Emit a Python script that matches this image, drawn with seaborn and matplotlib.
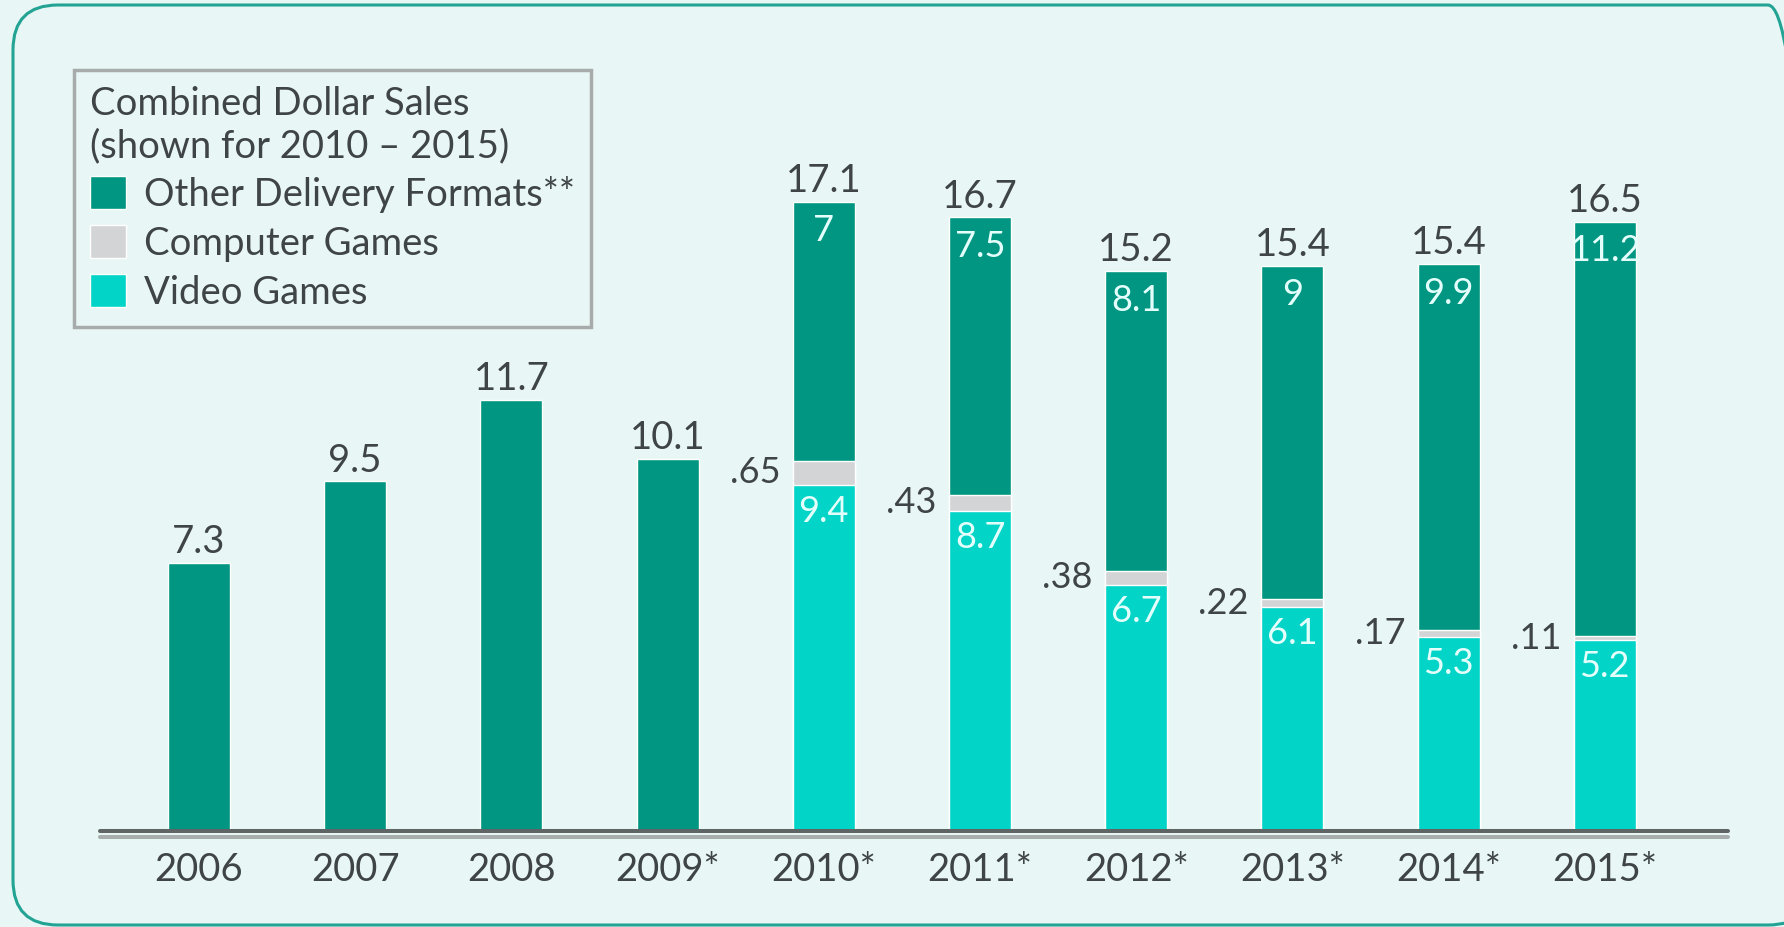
import numpy as np
import pandas as pd
import matplotlib
matplotlib.use('Agg')
import matplotlib.pyplot as plt
import seaborn as sns
from matplotlib.patches import Patch, FancyBboxPatch

# Dados (bilhões de US$)
years = ['2006', '2007', '2008', '2009*', '2010*', '2011*', '2012*', '2013*', '2014*', '2015*']
other = [7.3, 9.5, 11.7, 10.1, 7.0, 7.5, 8.1, 9.0, 9.9, 11.2]
computer = [0, 0, 0, 0, 0.65, 0.43, 0.38, 0.22, 0.17, 0.11]
video = [0, 0, 0, 0, 9.4, 8.7, 6.7, 6.1, 5.3, 5.2]
totals = [7.3, 9.5, 11.7, 10.1, 17.1, 16.7, 15.2, 15.4, 15.4, 16.5]
other_lbl = ['', '', '', '', '7', '7.5', '8.1', '9', '9.9', '11.2']
computer_lbl = ['', '', '', '', '.65', '.43', '.38', '.22', '.17', '.11']
video_lbl = ['', '', '', '', '9.4', '8.7', '6.7', '6.1', '5.3', '5.2']

# Cores
BG = '#e8f7f5'
C_OTHER = '#009682'
C_COMP = '#d3d4d6'
C_VIDEO = '#02d4c8'
TXT = '#3f4447'
INNER = '#e4fffb'

sns.set_theme(style='white')
plt.rcParams['font.family'] = ['Lato', 'DejaVu Sans']

df = pd.DataFrame({'year': years, 'other': other, 'computer': computer, 'video': video})
df['vc'] = df['video'] + df['computer']
df['total'] = df['vc'] + df['other']

W, H = 1784, 927
fig = plt.figure(figsize=(W / 100, H / 100), dpi=100, facecolor=BG)
ax = fig.add_axes([100 / W, 94 / H, 1628 / W, 833 / H])
ax.set_facecolor(BG)

# barras empilhadas (camadas sobrepostas)
bw = 0.397
sns.barplot(data=df, x='year', y='total', color=C_OTHER, saturation=1, width=bw, ax=ax, zorder=2)
sns.barplot(data=df, x='year', y='vc', color=C_COMP, saturation=1, width=bw, ax=ax, zorder=3)
sns.barplot(data=df, x='year', y='video', color=C_VIDEO, saturation=1, width=bw, ax=ax, zorder=4)

ax.set_xlim(-0.634, 9.789)
ax.set_ylim(0, 22.5)
ax.set_xlabel('')
ax.set_ylabel('')
ax.set_yticks([])
for s in ax.spines.values():
    s.set_visible(False)
ax.tick_params(axis='x', length=0, pad=14, labelsize=27.5, labelcolor=TXT)

# linha do eixo
ax.axhline(0.06, color='#5f6565', lw=2.9, zorder=6, clip_on=False)
ax.axhline(-0.1, color='#a6adac', lw=2.9, zorder=6, clip_on=False)

# rótulos
for i in range(len(years)):
    top = df['total'][i]
    ax.annotate(f'{totals[i]}', xy=(i, top), xytext=(0, 2), textcoords='offset points',
                ha='center', va='bottom', fontsize=27.5, color=TXT, zorder=7)
    if other_lbl[i]:
        ax.annotate(other_lbl[i], xy=(i, top), xytext=(0, -21), textcoords='offset points',
                    ha='center', va='center', fontsize=26, color=INNER, zorder=7)
        ax.annotate(video_lbl[i], xy=(i, video[i]), xytext=(0, -19), textcoords='offset points',
                    ha='center', va='center', fontsize=26, color=INNER, zorder=7)
        ax.annotate(computer_lbl[i], xy=(i - bw / 2, video[i] + computer[i] / 2), xytext=(-9, 0),
                    textcoords='offset points', ha='right', va='center', fontsize=26, color=TXT, zorder=7)

# legenda
handles = [Patch(facecolor=C_OTHER), Patch(facecolor=C_COMP), Patch(facecolor=C_VIDEO)]
labels = ['Other Delivery Formats**', 'Computer Games', 'Video Games']
leg = ax.legend(handles, labels, title='Combined Dollar Sales\n(shown for 2010 \u2013 2015)',
                loc='upper left', bbox_to_anchor=(74 / W, 1 - 70 / H), bbox_transform=fig.transFigure,
                fontsize=27.5, title_fontsize=27.5, alignment='left', frameon=True, fancybox=False,
                facecolor=BG, edgecolor='#a7abab', framealpha=1, handlelength=0.95, handleheight=0.95,
                handletextpad=0.45, labelspacing=0.32, borderpad=0.42, borderaxespad=0)
leg.get_frame().set_linewidth(2.5)
for t in leg.get_texts():
    t.set_color(TXT)
leg.get_title().set_color(TXT)

# moldura arredondada
frame = FancyBboxPatch((13, 2), 1800, 920, boxstyle='round,pad=0,rounding_size=45',
                       transform=None, facecolor='none', edgecolor='#22a393', lw=2.2)
fig.patches.append(frame)

fig.savefig('out.png', dpi=100, facecolor=BG)
